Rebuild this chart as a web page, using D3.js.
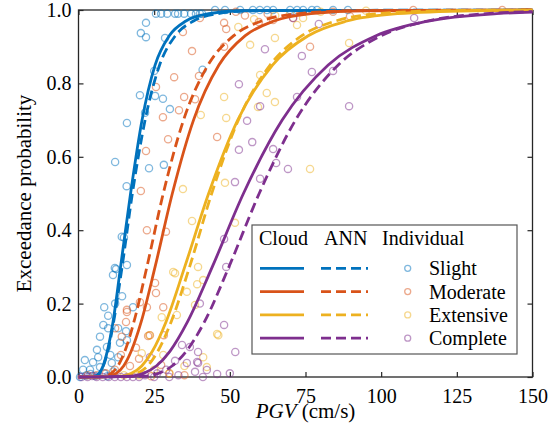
<!DOCTYPE html>
<html>
<head>
<meta charset="utf-8">
<script src="https://cdn.jsdelivr.net/npm/d3@7"></script>
<style>
  body { margin: 0; background: #fff; }
  svg text { font-family: "Liberation Serif", "Times New Roman", serif; fill: #000; }
</style>
</head>
<body>
<svg id="chart" width="559" height="436"></svg>
<script>
// Damage states and their colours
var categories = ["Slight", "Moderate", "Extensive", "Complete"];
var colors = ["#0072BD", "#D95319", "#EDB120", "#7E2F8E"];
var serif = "'Liberation Serif', 'Times New Roman', serif";

var xTicks = [0, 25, 50, 75, 100, 125, 150];
var yTicks = [0, 0.2, 0.4, 0.6, 0.8, 1.0];

// Fragility curves [PGV, probability]
var slightCloud = [[0,0],[5.4,0.002],[6.8,0.01],[8.1,0.03],[9.5,0.07],[11.4,0.15],[13.9,0.3],[17.2,0.5],[21.0,0.7],[25.3,0.85],[30.0,0.93],[35.5,0.97],[43.0,0.99],[54.0,0.998],[150,1]];
var slightAnn = [[0,0],[5.5,0.002],[6.9,0.01],[8.2,0.03],[9.7,0.07],[11.6,0.15],[14.4,0.3],[17.8,0.5],[22.0,0.7],[26.8,0.85],[32.0,0.93],[38.0,0.97],[46.0,0.99],[57.9,0.998],[150,1]];
var moderateCloud = [[0,0],[10.1,0.002],[12.5,0.01],[14.9,0.03],[17.4,0.07],[20.7,0.15],[25.3,0.3],[31.0,0.5],[38.0,0.7],[46.4,0.85],[55.1,0.93],[64.6,0.97],[76.8,0.99],[95.2,0.998],[150,1]];
var moderateAnn = [[0,0],[8.6,0.002],[10.8,0.01],[13.0,0.03],[15.3,0.07],[18.3,0.15],[22.6,0.3],[28.0,0.5],[34.7,0.7],[42.8,0.85],[51.3,0.93],[60.5,0.97],[72.7,0.99],[91.1,0.998],[150,1]];
var extensiveCloud = [[0,0],[14.2,0.002],[17.5,0.01],[20.9,0.03],[24.4,0.07],[28.9,0.15],[35.1,0.3],[43.0,0.5],[52.6,0.7],[64.1,0.85],[75.9,0.93],[88.7,0.97],[105.4,0.99],[130.2,0.998],[150,0.9995]];
var extensiveAnn = [[0,0],[16.1,0.002],[19.5,0.01],[22.8,0.03],[26.2,0.07],[30.6,0.15],[36.7,0.3],[44.0,0.5],[52.8,0.7],[63.3,0.85],[73.8,0.93],[85.0,0.97],[99.3,0.99],[120.4,0.998],[150,0.9999]];
var completeCloud = [[0,0],[17.2,0.002],[21.5,0.01],[25.7,0.03],[30.2,0.07],[36.0,0.15],[44.2,0.3],[54.5,0.5],[67.3,0.7],[82.5,0.85],[98.3,0.93],[115.6,0.97],[138.2,0.99],[150,0.9943]];
var completeAnn = [[0,0],[21.8,0.002],[26.4,0.01],[30.9,0.03],[35.6,0.07],[41.6,0.15],[49.7,0.3],[59.7,0.5],[71.7,0.7],[85.8,0.85],[100.1,0.93],[115.3,0.97],[134.7,0.99],[150,0.9958]];

// Individual points [PGV, probability]
var slightPts = [[25.6,0.99],[27.3,0.99],[29.3,0.99],[31.9,0.99],[32.9,0.99],[34.9,0.99],[37.2,0.99],[38.8,0.99],[40.1,0.99],[40.8,0.99],
  [45.1,1],[48.4,1],[53.4,1],[57.6,1],[59.9,1],[62.3,1],[64.3,1],[69.9,1],[72.2,1],[74.2,1],[77.1,1],[78.8,1],[84.1,1],[89.0,1],
  [22.3,0.965],[20.6,0.937],[22.3,0.926],[28.6,0.924],[25.0,0.834],[41.0,0.837],[20.3,0.768],[25.3,0.766],[27.9,0.758],[30.2,0.73],
  [22.0,0.72],[16.0,0.692],[12.1,0.586],[15.9,0.52],[23.3,0.569],[28.2,0.578],[14.3,0.382],[15.0,0.38],[11.4,0.278],[16.0,0.305],
  [12.4,0.294],[12.0,0.297],[8.5,0.19],[9.8,0.167],[14.4,0.22],[18.0,0.19],[12.1,0.2],[8.2,0.142],[9.8,0.133],[13.1,0.133],[15.7,0.125],
  [7.1,0.11],[6.1,0.074],[2.1,0.046],[4.8,0.04],[6.5,0.054],[9.4,0.082],[13.7,0.093],[1.5,0.02],[3.8,0.02],[7.1,0.027],[11.0,0.038],
  [13.1,0.054],[16.0,0.1],[10.5,0.06],[4.0,0.008],[8.5,0.01],[11.5,0.015],[0.5,0],[2.5,0.004],[5.5,0.003],[9.5,0.002]];
var moderatePts = [[40.1,0.978],[34.5,0.94],[37.5,0.888],[48.1,0.965],[48.8,0.948],[48.1,0.9],[25.6,0.79],[31.6,0.817],[34.9,0.763],
  [39.8,0.82],[38.5,0.757],[33.2,0.727],[27.9,0.708],[29.6,0.648],[22.3,0.616],[20.6,0.507],[45.8,0.654],[22.6,0.4],[28.9,0.396],
  [59.6,0.967],[64.3,0.973],[70.9,0.978],[76.5,0.9],[89.7,0.983],[84.1,0.995],[110.6,1],[140.0,1],[62.5,0.99],[55.0,0.985],[52.0,0.995],
  [16.0,0.183],[20.3,0.204],[25.3,0.256],[25.6,0.229],[28.0,0.19],[28.2,0.114],[12.1,0.133],[14.3,0.11],[15.7,0.15],[23.6,0.114],
  [27.3,0.033],[16.0,0.177],[22.6,0.19],[23.0,0.112],[20.0,0.05],[17.0,0.03],[12.0,0.02],[9.0,0.01],[6.0,0.005],[3.0,0.005],
  [14.0,0.06],[19.0,0.08],[30.0,0.01],[35.0,0.005],[24.0,0.002]];
var extensivePts = [[52.8,0.954],[56.7,0.905],[64.9,0.924],[60.0,0.823],[62.2,0.774],[64.9,0.749],[48.1,0.763],[40.4,0.714],[48.8,0.706],
  [59.3,0.736],[48.4,0.529],[34.5,0.512],[37.5,0.425],[51.7,0.42],[76.5,0.567],[31.3,0.286],[35.8,0.232],[39.5,0.3],[41.2,0.264],
  [27.5,0.163],[20.9,0.065],[23.4,0.114],[46.2,0.114],[42.4,0.027],[41.2,0.054],[31.9,0.283],[39.2,0.253],[32.5,0.169],[38.5,0.196],
  [45.8,0.117],[89.4,0.91],[72.2,0.959],[74.2,0.978],[69.9,0.99],[80.0,0.995],[95.0,0.998],[65.0,0.985],[58.0,0.975],[25.0,0.02],
  [30.0,0.01],[35.0,0.03],[20.0,0.005],[15.0,0.005],[28.0,0.06]];
var completePts = [[53.0,0.798],[61.6,0.893],[55.7,0.698],[57.4,0.64],[53.0,0.619],[51.7,0.531],[60.0,0.54],[65.3,0.583],[64.3,0.621],
  [69.2,0.567],[48.1,0.376],[70.9,0.978],[79.4,0.962],[73.8,0.875],[77.1,0.831],[84.1,0.834],[72.2,0.763],[89.4,0.738],[110.9,0.978],
  [60.0,0.738],[48.8,0.3],[48.1,0.142],[51.8,0.068],[34.2,0.087],[36.8,0.082],[39.5,0.068],[39.5,0.038],[35.8,0.038],[31.9,0.044],
  [45.8,0.008],[42.4,0.019],[23.6,0.054],[40.1,0.2],[39.2,0.041],[38.5,0.014],[41.1,0],[29.0,0.02],[26.0,0.01],[22.0,0.005],[18.0,0],
  [14.0,0],[10.0,0],[6.0,0],[3.0,0],[1.0,0],[8.0,0],[12.0,0],[16.0,0],[20.0,0],[25.0,0],[30.0,0],[33.0,0.005],[4.5,0.003],[50.0,0.01]];

var cloudCurves = [slightCloud, moderateCloud, extensiveCloud, completeCloud];
var annCurves = [slightAnn, moderateAnn, extensiveAnn, completeAnn];
var points = [slightPts, moderatePts, extensivePts, completePts];

var svg = d3.select("#chart");
var margin = {top: 10, right: 26.5, bottom: 59, left: 78.5},
    width = 559 - margin.left - margin.right,
    height = 436 - margin.top - margin.bottom;

var x = d3.scaleLinear().domain([0, 150]).range([0, width]);
var y = d3.scaleLinear().domain([0, 1]).range([height, 0]);

var g = svg.append("g")
    .attr("transform", "translate(" + margin.left + "," + margin.top + ")");

// Axes, ticks pointing inward on all four sides
var fmtY = d3.format(".1f");
g.append("g")
    .attr("transform", "translate(0," + height + ")")
    .call(d3.axisBottom(x).tickValues(xTicks).tickSize(-5).tickSizeOuter(0).tickPadding(12));
g.append("g")
    .call(d3.axisLeft(y).tickValues(yTicks).tickFormat(fmtY).tickSize(-5).tickSizeOuter(0).tickPadding(7));
g.append("g")
    .call(d3.axisTop(x).tickValues(xTicks).tickFormat("").tickSize(-5).tickSizeOuter(0));
g.append("g")
    .attr("transform", "translate(" + width + ",0)")
    .call(d3.axisRight(y).tickValues(yTicks).tickFormat("").tickSize(-5).tickSizeOuter(0));

g.selectAll(".domain").remove();
g.selectAll(".tick line").attr("stroke", "#262626").attr("stroke-width", 1.2);
g.selectAll(".tick text")
    .style("font-family", serif)
    .style("font-size", "20px")
    .attr("fill", "#000");

g.append("rect")
    .attr("width", width)
    .attr("height", height)
    .attr("fill", "none")
    .attr("stroke", "#262626")
    .attr("stroke-width", 1.3);

// Axis labels
var xl = g.append("text")
    .attr("transform", "translate(" + (width / 2) + "," + (height + 41) + ")")
    .style("text-anchor", "middle")
    .style("font-family", serif)
    .style("font-size", "21px");
xl.append("tspan").style("font-style", "italic").text("PGV");
xl.append("tspan").text(" (cm/s)");

g.append("text")
    .attr("transform", "rotate(-90)")
    .attr("x", -height / 2)
    .attr("y", -48)
    .style("text-anchor", "middle")
    .style("font-family", serif)
    .style("font-size", "21px")
    .text("Exceedance probability");

// Scatter of individual results
categories.forEach(function(c, i) {
  g.append("g").selectAll("circle")
      .data(points[i])
      .enter().append("circle")
      .attr("cx", function(d) { return x(d[0]); })
      .attr("cy", function(d) { return y(d[1]); })
      .attr("r", 3.6)
      .attr("fill", "none")
      .attr("stroke", colors[i])
      .attr("stroke-opacity", 0.5)
      .attr("stroke-width", 1.3);
});

// Fragility curves
var line = d3.line()
    .x(function(d) { return x(d[0]); })
    .y(function(d) { return y(d[1]); })
    .curve(d3.curveMonotoneX);

categories.forEach(function(c, i) {
  g.append("path")
      .attr("d", line(cloudCurves[i]))
      .attr("fill", "none")
      .attr("stroke", colors[i])
      .attr("stroke-width", 2.8);
  g.append("path")
      .attr("d", line(annCurves[i]))
      .attr("fill", "none")
      .attr("stroke", colors[i])
      .attr("stroke-width", 2.8)
      .attr("stroke-dasharray", "10,5");
});

// Legend
var lg = svg.append("g").attr("transform", "translate(252,225)");
lg.append("rect")
    .attr("width", 265)
    .attr("height", 129)
    .attr("fill", "#fff")
    .attr("stroke", "#555")
    .attr("stroke-width", 1.2);

var headers = [["Cloud", 7], ["ANN", 72], ["Individual", 130]];
headers.forEach(function(h) {
  lg.append("text")
      .attr("x", h[1])
      .attr("y", 20)
      .style("font-family", serif)
      .style("font-size", "20px")
      .text(h[0]);
});

categories.forEach(function(c, i) {
  var ry = 43.3 + i * 23.3;
  lg.append("line")
      .attr("x1", 8).attr("x2", 52).attr("y1", ry).attr("y2", ry)
      .attr("stroke", colors[i]).attr("stroke-width", 2.8);
  lg.append("line")
      .attr("x1", 69).attr("x2", 116).attr("y1", ry).attr("y2", ry)
      .attr("stroke", colors[i]).attr("stroke-width", 2.8)
      .attr("stroke-dasharray", "10,5");
  lg.append("circle")
      .attr("cx", 155.7).attr("cy", ry).attr("r", 3)
      .attr("fill", "none")
      .attr("stroke", colors[i]).attr("stroke-opacity", 0.5).attr("stroke-width", 1.3);
  lg.append("text")
      .attr("x", 177)
      .attr("y", ry)
      .attr("dy", "0.35em")
      .style("font-family", serif)
      .style("font-size", "20px")
      .text(c);
});
</script>
</body>
</html>
